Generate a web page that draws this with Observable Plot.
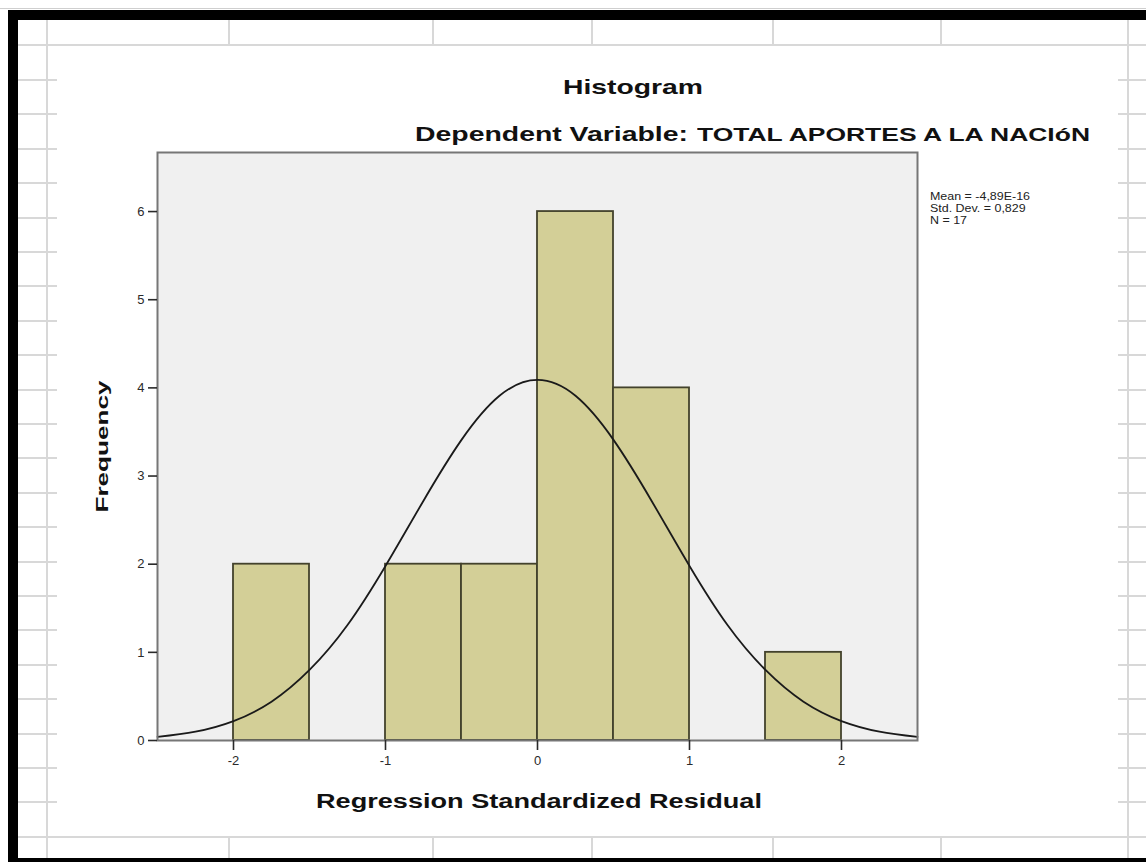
<!DOCTYPE html>
<html><head><meta charset="utf-8">
<script src="https://cdn.jsdelivr.net/npm/d3@7"></script>
<script src="https://cdn.jsdelivr.net/npm/@observablehq/plot@0.6"></script>
<style>
html,body{margin:0;padding:0;background:#fff;}
#stage{position:relative;width:1146px;height:862px;overflow:hidden;background:#fff;}
.t{position:absolute;white-space:nowrap;line-height:1;transform-origin:0 0;z-index:5;}
#plotbox{position:absolute;left:57px;top:46px;z-index:2;}
</style></head><body><div id="stage"></div>
<script>
// ---- data ----
const binStart = [-2, -1, -0.5, 0, 0.5, 1.5];
const binEnd   = [-1.5, -0.5, 0, 0.5, 1, 2];
const frequency = [2, 2, 2, 6, 4, 1];
const curveX = [-2.5,-2.25,-2,-1.75,-1.5,-1.25,-1,-0.75,-0.5,-0.25,0,0.25,0.5,0.75,1,1.25,1.5,1.75,2,2.25,2.5];
const curveY = [0.04,0.10,0.22,0.44,0.80,1.31,1.98,2.72,3.41,3.91,4.09,3.91,3.41,2.72,1.98,1.31,0.80,0.44,0.22,0.10,0.04];
const xTicks = [-2, -1, 0, 1, 2];
const yTicks = [0, 1, 2, 3, 4, 5, 6];
const titleText = "Histogram";
const subtitleA = "Dependent Variable:";
const subtitleB = "TOTAL APORTES A LA NACIóN";
const xLabel = "Regression Standardized Residual";
const yLabel = "Frequency";
const statsLines = ["Mean = -4,89E-16", "Std. Dev. = 0,829", "N = 17"];

const stage = document.getElementById("stage");
const FONT = "'Liberation Sans', Arial, sans-serif";
const NARROW = "'Liberation Sans Narrow', 'Arial Narrow', 'Liberation Sans', Arial, sans-serif";

// ---- spreadsheet-like backdrop ----
function box(l, t, w, h, c) {
  const d = document.createElement("div");
  d.style.cssText = `position:absolute;left:${l}px;top:${t}px;width:${w}px;height:${h}px;background:${c};`;
  stage.appendChild(d);
  return d;
}
const gc = "#d8d8d8";
box(18, 44, 1128, 2, gc);
box(18, 836, 1128, 2, gc);
box(46, 20, 2, 840, gc);
box(1127, 20, 2, 840, gc);
[229, 433, 592, 773, 941].forEach(x => { box(x - 1, 20, 2, 25, gc); box(x - 1, 837, 2, 22, gc); });
for (let k = 0; k < 22; k++) {
  const y = Math.round(79 + 34.4 * k);
  box(18, y, 39, 2, gc);
  box(1118, y, 28, 2, gc);
}
box(0, 8, 1146, 1, "#cfcfcf");
const fr = document.createElement("div");
fr.style.cssText = "position:absolute;left:8px;top:10px;width:1200px;height:852px;box-sizing:border-box;border-left:10px solid #000;border-top:10px solid #000;border-bottom:4px solid #000;z-index:1;";
stage.appendChild(fr);

// ---- chart ----
const bins = binStart.map((s, i) => ({x1: s, x2: binEnd[i], count: frequency[i]}));
const curve = curveX.map((x, i) => ({x, y: curveY[i]}));

const chart = Plot.plot({
  width: 1061, height: 790,
  marginLeft: 100, marginRight: 201, marginTop: 106, marginBottom: 96,
  x: {domain: [-2.5, 2.5]},
  y: {domain: [0, 6.67]},
  style: {background: "#fff", fontFamily: FONT, overflow: "visible"},
  marks: [
    Plot.frame({fill: "#f0f0f0", stroke: "none"}),
    Plot.rectY(bins, {x1: "x1", x2: "x2", y: "count", fill: "#d3cf97", stroke: "#43422c", strokeWidth: 1.8, inset: 0}),
    Plot.line(curve, {x: "x", y: "y", curve: "natural", stroke: "#1a1a1a", strokeWidth: 1.8}),
    Plot.frame({stroke: "#767676", strokeWidth: 2}),
    Plot.axisX({ticks: xTicks, tickSize: 10, tickPadding: 5, fontSize: 13, tickFormat: d => String(d), label: null, color: "#2a2a2a", strokeWidth: 1.6}),
    Plot.axisY({ticks: yTicks, tickSize: 9, tickPadding: 4, fontSize: 13, tickFormat: d => String(d), label: null, color: "#2a2a2a", strokeWidth: 1.6})
  ]
});
const pb = document.createElement("div");
pb.id = "plotbox";
pb.appendChild(chart);
stage.appendChild(pb);

// ---- texts ----
function makeText(str, size, weight, color, family) {
  const el = document.createElement("div");
  el.className = "t";
  el.textContent = str;
  el.style.fontSize = size + "px";
  el.style.fontWeight = weight;
  el.style.fontFamily = family || FONT;
  el.style.color = color;
  stage.appendChild(el);
  return el;
}
function fitText(str, {left, right, baseline, size, weight = "bold", color = "#111", scale, family}) {
  const el = makeText(str, size, weight, color, family);
  const w = el.getBoundingClientRect().width;
  const s = scale != null ? scale : (right - left) / w;
  el.style.left = left + "px";
  el.style.top = (baseline - 0.85 * size) + "px";
  el.style.transform = `scaleX(${s})`;
  return s;
}
fitText(titleText, {left: 563, right: 703, baseline: 94, size: 21});
fitText(subtitleA, {left: 415, right: 688, baseline: 141, size: 21});
fitText(subtitleB, {left: 697, right: 1090, baseline: 141, size: 18, family: NARROW});
fitText(xLabel, {left: 316, right: 762, baseline: 808, size: 20});
const s0 = fitText(statsLines[0], {left: 930, right: 1030, baseline: 200, size: 11, weight: "normal", color: "#222"});
fitText(statsLines[1], {left: 930, baseline: 212, size: 11, weight: "normal", color: "#222", scale: s0});
fitText(statsLines[2], {left: 930, baseline: 224, size: 11, weight: "normal", color: "#222", scale: s0});

// rotated y label
(function () {
  const size = 17;
  const el = makeText(yLabel, size, "bold", "#111");
  const w = el.getBoundingClientRect().width;
  const s = 132 / w;
  const cx = 103, cy = 446;
  el.style.left = (cx - w / 2) + "px";
  el.style.top = (cy - size / 2) + "px";
  el.style.transformOrigin = "50% 50%";
  el.style.transform = `rotate(-90deg) scaleX(${s})`;
})();
</script>
</body></html>
